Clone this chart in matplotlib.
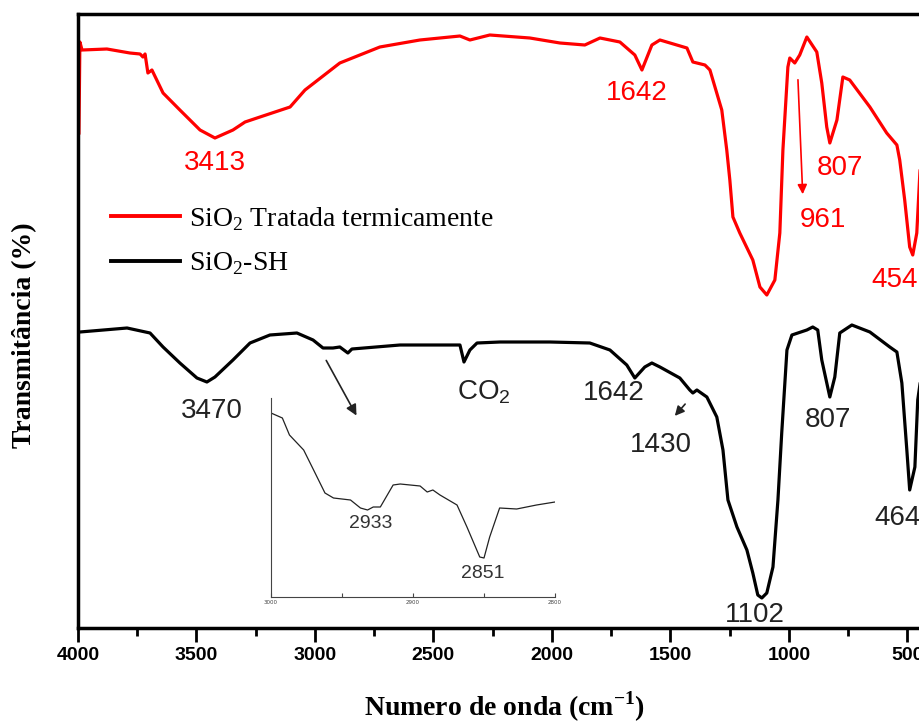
import matplotlib
matplotlib.use('Agg')
import matplotlib.pyplot as plt
from matplotlib.ticker import MultipleLocator, FixedLocator

plt.rcParams['mathtext.fontset'] = 'custom'
plt.rcParams['mathtext.rm'] = 'Liberation Serif'
plt.rcParams['mathtext.bf'] = 'Liberation Serif:bold'
plt.rcParams['mathtext.sf'] = 'Liberation Sans'

# FTIR spectra (wavenumber in cm-1, transmittance in arbitrary units)
wn_tratada = [3996, 3992, 3983, 3878, 3781, 3738, 3726, 3717, 3705, 3688, 3641, 3570,
              3485, 3422, 3346, 3295, 3232, 3105, 3042, 2895, 2726, 2557, 2388, 2346,
              2262, 2093, 1966, 1861, 1797, 1713, 1650, 1620, 1578, 1544, 1430, 1405,
              1354, 1333, 1283, 1262, 1249, 1236, 1207, 1152, 1122, 1093, 1059, 1038,
              1025, 1004, 996, 975, 954, 924, 882, 861, 840, 827, 797, 772, 743, 658,
              587, 544, 532, 511, 490, 477, 460, 447, 426, 405]
t_tratada = [495, 586, 578, 579, 575, 574, 571, 574, 555, 558, 535, 518,
             498, 490, 498, 506, 511, 521, 538, 565, 581, 588, 592, 588,
             593, 590, 585, 583, 590, 586, 573, 558, 583, 588, 580, 566,
             563, 558, 518, 478, 448, 411, 395, 368, 341, 333, 348, 395,
             478, 561, 570, 565, 573, 591, 576, 545, 501, 485, 508, 551, 548, 521,
             495, 483, 468, 428, 381, 373, 395, 455, 528, 538]

wn_sh = [3992, 3793, 3696, 3641, 3570, 3498, 3456, 3422, 3346, 3274, 3190, 3076,
         3008, 2966, 2924, 2895, 2861, 2844, 2641, 2388, 2371, 2346, 2316, 2219,
         2008, 1840, 1755, 1684, 1650, 1608, 1578, 1544, 1460, 1418, 1405, 1388,
         1346, 1304, 1278, 1257, 1219, 1177, 1152, 1131, 1114, 1093, 1067, 1046,
         1030, 1008, 987, 924, 899, 878, 861, 827, 806, 785, 734, 658, 574, 544,
         523, 502, 490, 468, 456, 426, 405]
t_sh = [296, 300, 295, 281, 265, 250, 246, 251, 268, 285, 293, 295,
        288, 280, 280, 281, 275, 279, 283, 283, 266, 278, 285, 286,
        286, 285, 278, 263, 250, 261, 265, 261, 250, 238, 235, 238,
        231, 211, 178, 128, 101, 78, 55, 33, 30, 35, 61, 128,
        195, 278, 293, 298, 301, 298, 268, 231, 251, 295, 303, 296, 281, 276,
        245, 178, 138, 161, 228, 278, 288]

# inset: SiO2-SH between 3000 and 2800 cm-1
wn_inset = [3000, 2992, 2987, 2977, 2970, 2962, 2956, 2944, 2937, 2932, 2928, 2923,
            2914, 2909, 2895, 2890, 2886, 2881, 2869, 2862, 2853, 2850, 2846, 2839,
            2827, 2813, 2800]
t_inset = [184, 179, 162, 147, 127, 104, 99, 97, 89, 87, 90, 90,
           112, 113, 111, 105, 107, 102, 92, 70, 40, 39, 60, 89,
           88, 92, 95]

# peak labels: (text, wavenumber, transmittance, horizontal alignment)
labels_tratada = [('3413', 3422, 465, 'center'), ('1642', 1641, 535, 'center'),
                  ('807', 785, 460, 'center'), ('961', 857, 408, 'center'),
                  ('454', 650, 348, 'left')]
labels_sh = [('3470', 3435, 217, 'center'), (r'$\mathsf{CO_2}$', 2401, 236, 'left'),
             ('1642', 1738, 235, 'center'), ('1430', 1540, 183, 'center'),
             ('1102', 1143, 13, 'center'), ('807', 836, 208, 'center'),
             ('464', 637, 110, 'left')]
labels_inset = [('2933', 2930, 73), ('2851', 2851, 24)]

fig = plt.figure(figsize=(9.2, 7.22), dpi=100)
ax = fig.add_axes([78 / 920, 94 / 722, 853 / 920, 614 / 722])

ax.plot(wn_tratada, t_tratada, color='#ff0000', lw=2.3, label=r'SiO$_2$ Tratada termicamente')
ax.plot(wn_sh, t_sh, color='black', lw=2.3, label=r'SiO$_2$-SH')

ax.set_xlim(4000, 400)
ax.set_ylim(0, 614)
ax.xaxis.set_major_locator(MultipleLocator(500))
ax.xaxis.set_minor_locator(MultipleLocator(250))
ax.set_yticks([])
ax.tick_params(axis='x', which='major', direction='out', length=10, width=2, pad=4)
ax.tick_params(axis='x', which='minor', direction='out', length=6, width=2)
for lab in ax.get_xticklabels():
    lab.set_fontfamily('Liberation Sans')
    lab.set_fontweight('bold')
    lab.set_fontsize(14)
for sp in ax.spines.values():
    sp.set_linewidth(2.5)

ax.set_xlabel(r'Numero de onda (cm$^{\mathbf{-1}}$)', family='Liberation Serif',
              fontweight='bold', fontsize=20, labelpad=18)
ax.set_ylabel('Transmitância (%)', family='Liberation Serif', fontweight='bold',
              fontsize=20)
ax.yaxis.set_label_coords(-0.048, 0.477)

for txt, x, y, ha in labels_tratada:
    ax.text(x, y, txt, color='#ff0000', fontsize=20, family='Liberation Sans',
            ha=ha, va='center')
for txt, x, y, ha in labels_sh:
    ax.text(x, y, txt, color='#222222', fontsize=20, family='Liberation Sans',
            ha=ha, va='center')

# arrows
ax.annotate('', xy=(941, 431), xytext=(962, 551),
            arrowprops=dict(arrowstyle='-|>', color='#ff0000', lw=1.2, mutation_scale=14))
ax.annotate('', xy=(2819, 210), xytext=(2958, 270),
            arrowprops=dict(arrowstyle='-|>', color='#222222', lw=1.2, mutation_scale=16))
ax.annotate('', xy=(1489, 210), xytext=(1430, 226),
            arrowprops=dict(arrowstyle='-|>', color='#222222', lw=1.2, mutation_scale=14))

leg = ax.legend(loc='upper left', bbox_to_anchor=(33 / 853, 1 - 191 / 614),
                frameon=False, borderpad=0, borderaxespad=0, handlelength=2.5,
                handletextpad=0.3, labelspacing=0.63,
                prop={'family': 'Liberation Serif', 'size': 20})
for line in leg.get_lines():
    line.set_linewidth(2.8)

# inset
axin = fig.add_axes([271 / 920, 125 / 722, 284 / 920, 199 / 722])
axin.plot(wn_inset, t_inset, color='#222222', lw=0.9)
axin.set_xlim(3000, 2800)
axin.set_ylim(0, 199)
axin.patch.set_alpha(0)
axin.spines['top'].set_visible(False)
axin.spines['right'].set_visible(False)
axin.spines['left'].set_color('#444444')
axin.spines['bottom'].set_color('#444444')
axin.set_yticks([])
axin.xaxis.set_major_locator(FixedLocator([3000, 2900, 2800]))
axin.xaxis.set_minor_locator(FixedLocator([2950, 2850]))
axin.tick_params(axis='x', which='both', direction='in', length=3, width=0.8,
                 colors='#444444', labelsize=4, pad=2)
for txt, x, y in labels_inset:
    axin.text(x, y, txt, fontsize=14, color='#333333', family='Liberation Sans',
              ha='center', va='center')

fig.savefig('out.png', dpi=100)
